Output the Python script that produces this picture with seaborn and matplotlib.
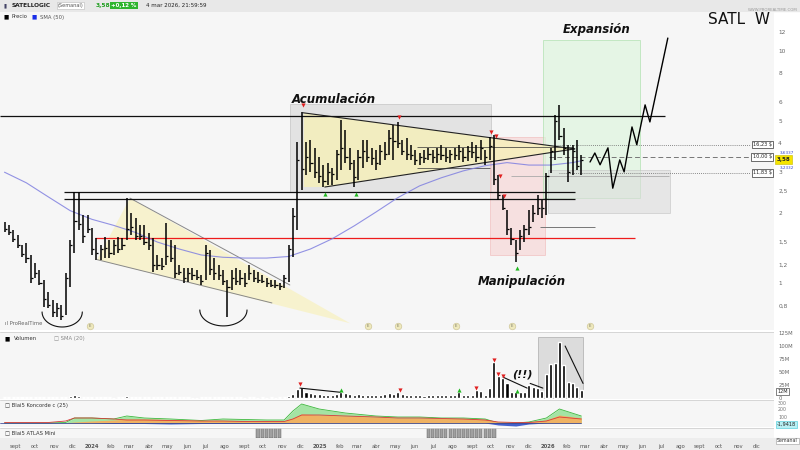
import numpy as np
import pandas as pd
import matplotlib
matplotlib.use("Agg")
import matplotlib.pyplot as plt
import seaborn as sns
from matplotlib.patches import Rectangle, Polygon
from matplotlib.ticker import NullLocator
import matplotlib.transforms as mtransforms

# =============================
# DATA  (weekly bars, week 0 = 14 aug 2023)
# =============================
START = pd.Timestamp("2023-08-14")

highs = [1.83, 1.78, 1.69, 1.61, 1.46, 1.49, 1.32, 1.22, 1.14, 1.03,
         0.91, 0.845, 0.82, 0.80, 1.10, 1.53, 2.47, 2.47, 1.96, 1.96,
         1.73, 1.56, 1.46, 1.58, 1.53, 1.53, 1.58, 1.56, 2.32, 2.00,
         1.91, 1.78, 1.78, 1.64, 1.56, 1.32, 1.28, 1.81, 1.53, 1.46,
         1.20, 1.16, 1.16, 1.16, 1.14, 1.08, 1.46, 1.39, 1.28, 1.20,
         1.14, 1.03, 1.14, 1.16, 1.14, 1.10, 1.20, 1.14, 1.12, 1.08,
         1.05, 1.03, 1.03, 1.00, 1.08, 1.46, 2.10, 4.05, 5.46, 4.05,
         4.13, 3.82, 3.49, 3.23, 3.29, 3.13, 3.74, 5.04, 4.56, 3.82,
         3.39, 3.74, 4.13, 4.13, 3.82, 3.74, 3.94, 4.05, 4.56, 4.80,
         4.94, 4.13, 4.20, 3.94, 3.74, 3.63, 3.74, 3.82, 3.74, 3.82,
         3.94, 3.82, 3.74, 3.82, 3.94, 3.82, 3.90, 4.05, 3.94, 4.13,
         3.74, 4.26, 4.34, 2.92, 2.39, 2.06, 1.73, 1.53, 1.69, 1.78,
         2.06, 2.17, 2.39, 2.28, 2.98, 3.82, 5.30, 5.85, 4.66, 3.94,
         3.94, 4.13, 3.56]

lows = [1.66, 1.61, 1.50, 1.42, 1.29, 1.22, 1.00, 1.05, 0.98, 0.79,
        0.78, 0.71, 0.71, 0.69, 0.73, 0.96, 1.35, 1.69, 1.49, 1.64,
        1.32, 1.26, 1.26, 1.28, 1.28, 1.32, 1.35, 1.39, 1.53, 1.61,
        1.53, 1.53, 1.46, 1.39, 1.12, 1.14, 1.14, 1.20, 1.23, 1.05,
        1.08, 1.00, 1.01, 1.03, 1.03, 0.98, 1.03, 1.08, 1.03, 1.03,
        0.98, 0.71, 0.93, 0.98, 0.98, 0.96, 1.03, 1.01, 1.00, 1.00,
        0.96, 0.96, 0.95, 0.93, 0.95, 1.01, 1.29, 1.69, 2.52, 2.92,
        3.01, 2.84, 2.70, 2.59, 2.64, 2.64, 2.78, 3.07, 3.29, 3.07,
        2.59, 2.78, 3.13, 3.32, 3.23, 3.07, 3.23, 3.39, 3.56, 3.39,
        3.82, 3.56, 3.39, 3.39, 3.23, 3.23, 3.29, 3.39, 3.29, 3.29,
        3.39, 3.32, 3.29, 3.39, 3.39, 3.32, 3.36, 3.46, 3.32, 3.39,
        3.23, 3.39, 2.64, 2.28, 2.06, 1.61, 1.46, 1.23, 1.39, 1.50,
        1.61, 1.83, 1.96, 1.91, 1.96, 2.98, 3.39, 4.13, 3.56, 2.72,
        2.92, 3.07, 2.92]

closes = [1.70, 1.65, 1.55, 1.45, 1.33, 1.28, 1.05, 1.10, 1.00, 0.85,
          0.80, 0.75, 0.78, 0.72, 1.05, 1.45, 1.85, 1.80, 1.60, 1.70,
          1.40, 1.35, 1.40, 1.42, 1.35, 1.45, 1.40, 1.45, 1.70, 1.75,
          1.60, 1.60, 1.50, 1.45, 1.20, 1.20, 1.18, 1.30, 1.28, 1.10,
          1.12, 1.05, 1.10, 1.08, 1.06, 1.02, 1.35, 1.15, 1.10, 1.08,
          1.02, 0.96, 1.05, 1.02, 1.05, 1.00, 1.10, 1.05, 1.03, 1.02,
          1.00, 0.98, 0.98, 0.97, 1.05, 1.40, 1.95, 3.40, 3.10, 3.50,
          3.30, 3.00, 2.90, 2.75, 3.00, 2.95, 3.60, 3.80, 3.50, 3.30,
          2.85, 3.50, 3.70, 3.50, 3.45, 3.30, 3.70, 3.60, 4.20, 4.10,
          4.00, 3.70, 3.60, 3.55, 3.40, 3.50, 3.45, 3.60, 3.50, 3.60,
          3.55, 3.50, 3.60, 3.55, 3.70, 3.50, 3.70, 3.65, 3.50, 3.80,
          3.50, 3.90, 2.80, 2.40, 2.10, 1.70, 1.55, 1.35, 1.60, 1.70,
          1.75, 2.00, 2.10, 2.10, 2.90, 3.70, 5.00, 4.30, 3.80, 3.00,
          3.70, 3.20, 3.40]

# volume in millions
volume_m = [1.5, 1.2, 1.0, 1.3, 1.1, 1.5, 2.0, 1.2, 1.0, 1.5,
            1.8, 2.0, 1.5, 2.5, 2.0, 3.5, 5.0, 3.0, 2.0, 1.5,
            1.2, 1.0, 1.0, 1.2, 1.0, 0.8, 1.0, 1.2, 3.5, 2.0,
            1.5, 1.2, 1.0, 1.0, 1.5, 1.2, 1.0, 1.8, 1.2, 1.5,
            1.0, 1.2, 1.0, 0.8, 0.8, 1.0, 1.5, 1.2, 1.0, 1.0,
            1.0, 2.0, 1.2, 1.0, 1.0, 0.8, 1.0, 1.0, 0.8, 1.0,
            0.8, 1.0, 0.8, 1.0, 1.5, 4.0, 8.0, 18.0, 22.0, 12.0,
            9, 8, 7, 6, 5, 6, 7, 12, 9, 7,
            6, 7, 6, 5, 6, 5, 6, 7, 9, 8,
            11, 7, 6, 6, 5, 5, 4, 5, 6, 5,
            5, 6, 5, 5, 11, 6, 5, 5, 15, 14,
            6, 19, 70, 43, 38, 28, 11, 11, 11, 12,
            25, 21, 19, 13, 47, 66, 68, 108, 64, 30,
            28, 21, 15]

# SMA (50)
sma_weeks = [0, 5, 10, 15, 20, 25, 30, 35, 40, 45, 50, 55, 60, 65,
             70, 75, 80, 85, 90, 95, 100, 105, 110, 115, 120, 125, 130, 132]
sma_values = [3.00, 2.70, 2.35, 2.05, 1.88, 1.77, 1.65, 1.50, 1.40, 1.32,
              1.29, 1.28, 1.28, 1.30, 1.40, 1.55, 1.76, 2.02, 2.33, 2.62,
              2.84, 3.04, 3.20, 3.30, 3.22, 3.22, 3.30, 3.36]

# projected path (drawn zigzag)
proj_weeks = [134.0, 135.1, 136.3, 138.1, 139.2, 140.8, 141.8, 143.6,
              144.7, 146.6, 147.7, 151.8]
proj_prices = [3.32, 3.63, 3.23, 3.82, 2.56, 3.39, 3.01, 4.70,
               3.94, 5.85, 4.94, 11.35]

# Koncorde panel
kon_weeks = [0, 5, 10, 14, 16, 20, 25, 28, 32, 38, 45, 50, 55, 60, 64, 66,
             68, 72, 78, 85, 90, 95, 100, 105, 110, 113, 117, 120, 124, 127, 132]
kon_green = [0, 0, 0, 0.5, 5, 5, 4, 7, 5, 4, 2.5, 4, 3.5, 3, 3, 12,
             19, 14, 10, 7, 6, 6, 5, 5, 4, 0, 0, 1, 5, 14, 7]
kon_orange = [0, 0, 0, 0, 1, 2, 3, 4, 4, 3.5, 2.5, 2.5, 2, 2, 2, 5,
              9, 8, 7, 6, 5, 5, 4.5, 4.5, 3.5, 1, 0.5, 1, 3, 8, 5]
kon_blue = [0, 0, 0, 0, 0, 0, -0.5, -0.5, -0.5, -1, -0.5, -0.5, -0.3, -0.3, -0.3, 0,
            0, 0, 0, 0, 0, 0, 0, 0, 0, -2, -3, -1, 0, 0, 0]
kon_red = [0.5, 0.5, 0.5, 2, 5, 5, 4, 3, 3, 2.5, 2, 2, 1.5, 1.5, 1.5, 4,
           8, 8, 7, 6, 5, 5, 4.5, 4, 3, 1, 0.5, 0.5, 2, 6, 4]

# ATLAS Mini active weeks
atlas_weeks = [58, 59, 60, 61, 62, 63,
               97, 98, 99, 100, 101, 102, 103, 104, 105, 106, 107, 108, 109, 110, 111, 112]

# analyst drawings (weeks, prices)
acc_box = [65.3, 111.3, 2.47, 5.91]
man_box = [111.1, 123.7, 1.32, 4.26]
exp_box = [123.2, 145.4, 2.32, 11.17]
tgt_box = [124.4, 152.3, 2.00, 3.07]

tri_weeks = [68.5, 130.0, 73.3, 68.5]
tri_prices = [5.41, 3.78, 2.59, 2.59]
wedge_weeks = [28.7, 79.1, 21.2]
wedge_prices = [2.32, 0.67, 1.26]

red_arrow_weeks = [68.3, 90.3, 111.3, 112.5, 113.4, 114.3]
red_arrow_prices = [5.85, 5.19, 4.48, 4.30, 2.89, 2.37]
green_arrow_weeks = [73.3, 80.4, 117.3]
green_arrow_prices = [2.42, 2.42, 1.16]
event_weeks = [19.6, 83.2, 90.1, 103.3, 116.1, 134.0]

target_prices = [3.94, 3.49, 2.98]
target_labels = ["16,23 $", "10,00 $", "11,83 $"]

vol_red_weeks = [67.6, 90.5, 108.0, 112.0, 113.0, 114.0]
vol_red_values = [27, 15, 19, 74, 47, 42]
vol_green_weeks = [77.0, 104.0, 117.3]
vol_green_values = [15, 15, 14]

price_ticks = [0.8, 1, 1.2, 1.5, 2, 2.5, 3, 4, 5, 6, 8, 10, 12]
vol_ticks = [0, 25, 50, 75, 100, 125]
month_abbr = ["ene", "feb", "mar", "abr", "may", "jun",
              "jul", "ago", "sept", "oct", "nov", "dic"]

# =============================
# STYLE
# =============================
sns.set_theme(style="white", rc={"axes.facecolor": "#f6f6f6",
                                 "figure.facecolor": "white"})
plt.rcParams["font.family"] = ["DejaVu Sans"]

weeks = np.arange(len(highs))
XMIN, XMAX = -1.03, 176.1
R = 774 / 800

fig = plt.figure(figsize=(8, 4.5), dpi=100)
ax = fig.add_axes([0, 1 - 330 / 450, R, 318 / 450])
ax_v = fig.add_axes([0, 1 - 399 / 450, R, 67 / 450], sharex=ax)
ax_k = fig.add_axes([0, 1 - 427 / 450, R, 27 / 450], sharex=ax)
ax_a = fig.add_axes([0, 1 - 438 / 450, R, 10 / 450], sharex=ax)

for a in (ax, ax_v, ax_k, ax_a):
    for s in a.spines.values():
        s.set_visible(False)
    a.tick_params(axis="x", length=0, labelbottom=False)

# header / bottom bands
fig.patches.append(Rectangle((0, 1 - 11 / 450), 1, 11 / 450, transform=fig.transFigure,
                             color="#e8e8e8", zorder=-1))
fig.patches.append(Rectangle((0, 0), 1, 12 / 450, transform=fig.transFigure,
                             color="#ededed", zorder=-1))

# =============================
# PRICE PANEL
# =============================
ax.set_yscale("log")
ax.set_xlim(XMIN, XMAX)
ax.set_ylim(0.627, 14.7)

def box(a, b, color, edge, alpha):
    a_ = Rectangle((b[0], b[2]), b[1] - b[0], b[3] - b[2], facecolor=color,
                   edgecolor=edge, lw=0.6, alpha=alpha, zorder=0)
    a.add_patch(a_)

box(ax, acc_box, "#dcdcdc", "#bdbdbd", 0.7)
box(ax, man_box, "#f6d2d2", "#efb0b0", 0.6)
box(ax, exp_box, "#dff5df", "#a6dea6", 0.7)
box(ax, tgt_box, "#dcdcdc", "#bdbdbd", 0.6)

ax.add_patch(Polygon(list(zip(tri_weeks, tri_prices)), closed=True,
                     facecolor="#f6f0b8", edgecolor="none", alpha=0.8, zorder=0.5))
ax.add_patch(Polygon(list(zip(wedge_weeks, wedge_prices)), closed=True,
                     facecolor="#f8f2c4", edgecolor="none", alpha=0.8, zorder=0.5))

# triangle / wedge borders
ax.plot([68.3, 130.5], [5.41, 3.78], color="#222", lw=0.8, zorder=1)
ax.plot([73.3, 130.5], [2.59, 3.78], color="#222", lw=0.8, zorder=1)
ax.plot([28.7, 65.3], [2.32, 0.98], color="#888", lw=0.7, zorder=1)
ax.plot([21.2, 61.2], [1.26, 0.82], color="#888", lw=0.7, zorder=1)
ax.hlines([3.86], 94.4, 130, color="#333", lw=0.5, zorder=1)
ax.hlines([3.13], 94.4, 111, color="#333", lw=0.5, zorder=1)

# horizontal levels
ax.hlines(5.25, XMIN, 151.1, color="#111", lw=0.9, zorder=1)
ax.hlines([2.47, 2.30], 13.6, 130.5, color="#111", lw=0.9, zorder=1)
ax.hlines(1.56, 20.7, 144.3, color="#ee1c1c", lw=0.9, zorder=1)
ax.hlines(1.75, 122.5, 135.1, color="#777", lw=0.7, zorder=1)
ax.hlines(2.89, 116.0, 152.0, color="#aaa", lw=0.6, zorder=1)
ax.hlines(target_prices[0], 126.0, 170.5, color="#666", lw=0.6, ls=(0, (1, 1.5)), zorder=1)
ax.hlines(target_prices[1], 124.7, 170.5, color="#777", lw=0.7, ls=(0, (5, 3)), zorder=1)
ax.hlines(target_prices[2], 127.0, 170.5, color="#666", lw=0.6, ls=(0, (1, 1.5)), zorder=1)

for p, lab in zip(target_prices, target_labels):
    ax.text(175.6, p, lab, ha="right", va="center", fontsize=3.6, color="#222",
            bbox=dict(boxstyle="square,pad=0.25", fc="white", ec="#333", lw=0.5), zorder=5)

# SMA 50
sma_df = pd.DataFrame({"week": sma_weeks, "sma": sma_values})
sns.lineplot(data=sma_df, x="week", y="sma", ax=ax, color="#8080e0", lw=0.8,
             alpha=0.85, zorder=2, legend=False)

# OHLC bars
ax.vlines(weeks, lows, highs, color="black", lw=1.1, zorder=3)
ax.hlines(closes, weeks, weeks + 0.5, color="black", lw=0.9, zorder=3)

# projection
proj_df = pd.DataFrame({"week": proj_weeks, "price": proj_prices})
sns.lineplot(data=proj_df, x="week", y="price", ax=ax, color="black", lw=1.0,
             sort=False, zorder=3, legend=False)

# arrows
ax.scatter(red_arrow_weeks, red_arrow_prices, marker="v", s=9, color="#e02020", zorder=4, lw=0)
ax.scatter(green_arrow_weeks, green_arrow_prices, marker="^", s=9, color="#22b822", zorder=4, lw=0)

# smile arcs under the lows
t = np.linspace(0, np.pi, 40)
for kc, hw, ptop, pbot in [(13.2, 4.6, 0.75, 0.646), (50.1, 5.4, 0.765, 0.653)]:
    lt, lb = np.log10(ptop), np.log10(pbot)
    ax.plot(kc + hw * np.cos(t), 10 ** (lt - (lt - lb) * np.sin(t)), color="#111", lw=0.8, zorder=3)

# event circles
ax.scatter(event_weeks, [0.653] * len(event_weeks), s=22, facecolor="#efe9bd",
           edgecolor="#cfc799", lw=0.5, zorder=4)
for w in event_weeks:
    ax.text(w, 0.653, "E", fontsize=2.8, ha="center", va="center", color="#776", zorder=5)

# labels
ax.text(75.4, 6.2, "Acumulación", fontsize=8.5, fontweight="bold", style="italic",
        ha="center", va="center", color="#111")
ax.text(118.4, 1.01, "Manipulación", fontsize=8.5, fontweight="bold", style="italic",
        ha="center", va="center", color="#111")
ax.text(135.6, 12.4, "Expansión", fontsize=8.5, fontweight="bold", style="italic",
        ha="center", va="center", color="#111")
ax.text(0.006, 0.012, "ıl ProRealTime", transform=ax.transAxes, fontsize=3.8,
        color="#666", va="bottom")

# right price axis
ax.yaxis.tick_right()
ax.yaxis.set_minor_locator(NullLocator())
ax.set_yticks(price_ticks)
ax.set_yticklabels([str(v).replace(".", ",") for v in price_ticks])
ax.tick_params(axis="y", length=0, pad=3, labelsize=4.2, labelcolor="#666")
ax.set_xlabel("")
ax.set_ylabel("")

trans = mtransforms.blended_transform_factory(ax.transAxes, ax.transData)
last_close = closes[-1]
ax.text(1.003, last_close, "3,58", transform=trans, fontsize=4, fontweight="bold",
        ha="left", va="center", color="#222",
        bbox=dict(boxstyle="square,pad=0.3", fc="#f5e400", ec="#c8b800", lw=0.4), zorder=6)
ax.text(1.008, 3.62, "3,6337", transform=trans, fontsize=3, ha="left", va="center", color="#3344cc")
ax.text(1.008, 3.12, "3,2332", transform=trans, fontsize=3, ha="left", va="center", color="#3344cc")

# =============================
# VOLUME PANEL
# =============================
ax_v.set_ylim(-2, 127)
vol_color = ["black"] * len(volume_m)
ax_v.bar(weeks, volume_m, width=0.7, color=vol_color, zorder=3)
ax_v.add_patch(Rectangle((122.1, 0), 10.3, 117, facecolor="#d6d6d6", edgecolor="#aaa",
                         lw=0.6, alpha=0.8, zorder=1))
ax_v.plot([114.1, 119.6], [40, 19], color="#111", lw=0.8, zorder=4)
ax_v.plot([120.3, 123.2], [28, 19], color="#111", lw=0.8, zorder=4)
ax_v.plot([128.3, 132.4], [100, 28], color="#111", lw=0.8, zorder=4)
ax_v.plot([67.6, 76.8], [19, 11], color="#111", lw=0.8, zorder=4)
ax_v.scatter(vol_red_weeks, vol_red_values, marker="v", s=9, color="#e02020", zorder=5, lw=0)
ax_v.scatter(vol_green_weeks, vol_green_values, marker="^", s=9, color="#22b822", zorder=5, lw=0)
ax_v.text(118.5, 46, "(!!)", fontsize=8, fontweight="bold", style="italic",
          ha="center", va="center", color="#111")
ax_v.yaxis.tick_right()
ax_v.set_yticks(vol_ticks)
ax_v.set_yticklabels(["0", "25M", "50M", "75M", "100M", "125M"])
ax_v.tick_params(axis="y", length=0, pad=3, labelsize=3.8, labelcolor="#666")
ax_v.text(1.004, 12, "12M", transform=mtransforms.blended_transform_factory(ax_v.transAxes, ax_v.transData),
          fontsize=3.6, ha="left", va="center", color="#222",
          bbox=dict(boxstyle="square,pad=0.2", fc="white", ec="#222", lw=0.4))
ax_v.text(0.006, 0.9, "■", transform=ax_v.transAxes, fontsize=4, color="black", va="center")
ax_v.text(0.018, 0.9, "Volumen", transform=ax_v.transAxes, fontsize=3.8, color="#333", va="center")
ax_v.text(0.07, 0.9, "□ SMA (20)", transform=ax_v.transAxes, fontsize=3.8, color="#888", va="center")
ax_v.axhline(127, color="#d0d0d0", lw=0.6)

# =============================
# KONCORDE PANEL
# =============================
ax_k.set_ylim(-4, 23)
ax_k.fill_between(kon_weeks, 0, kon_green, color="#9be39b", alpha=0.9, lw=0, zorder=1)
ax_k.plot(kon_weeks, kon_green, color="#3cb83c", lw=0.6, zorder=2)
ax_k.fill_between(kon_weeks, 0, kon_orange, color="#f4b060", alpha=0.95, lw=0, zorder=3)
ax_k.fill_between(kon_weeks, 0, kon_blue, color="#3050c8", alpha=0.9, lw=0, zorder=3)
kon_df = pd.DataFrame({"week": kon_weeks, "red": kon_red})
sns.lineplot(data=kon_df, x="week", y="red", ax=ax_k, color="#d83a3a", lw=0.6,
             zorder=4, legend=False)
ax_k.axhline(0, xmin=0, xmax=(132 - XMIN) / (XMAX - XMIN), color="#203090", lw=0.5, zorder=4)
ax_k.axhline(23, color="#d0d0d0", lw=0.6)
ax_k.yaxis.tick_right()
ax_k.set_yticks([20, 14, 6])
ax_k.set_yticklabels(["300", "200", "100"])
ax_k.tick_params(axis="y", length=0, pad=3, labelsize=3.4, labelcolor="#777")
ax_k.text(1.004, -1.5, "-1,9418", transform=mtransforms.blended_transform_factory(ax_k.transAxes, ax_k.transData),
          fontsize=3.6, ha="left", va="center", color="#222",
          bbox=dict(boxstyle="square,pad=0.2", fc="#b8f0f4", ec="#40c8d8", lw=0.4))
ax_k.text(0.006, 0.8, "□ Blai5 Koncorde c (25)", transform=ax_k.transAxes, fontsize=3.8,
          color="#333", va="center")
ax_k.set_xlabel("")
ax_k.set_ylabel("")

# =============================
# ATLAS MINI PANEL
# =============================
ax_a.set_ylim(0, 1)
ax_a.bar(atlas_weeks, [1] * len(atlas_weeks), width=0.75, color="#a0a0a0",
         edgecolor="#555", lw=0.3)
ax_a.axhline(1, color="#d0d0d0", lw=0.6)
ax_a.set_yticks([])
ax_a.text(0.006, 0.5, "□ Blai5 ATLAS Mini", transform=ax_a.transAxes, fontsize=3.8,
          color="#333", va="center")

# month axis
months = pd.date_range("2023-09-01", "2027-01-01", freq="MS")
month_pos = (months - START).days / 7
month_lab = [str(d.year) if d.month == 1 else month_abbr[d.month - 1] for d in months]
ax_a.set_xticks(month_pos)
ax_a.set_xticklabels(month_lab)
ax_a.tick_params(axis="x", length=0, pad=4, labelsize=3.8, labelcolor="#555", labelbottom=True)
for lab in ax_a.get_xticklabels():
    if lab.get_text().isdigit():
        lab.set_fontweight("bold")
ax_a.set_xlim(XMIN, XMAX)

# =============================
# HEADER TEXT
# =============================
hy = 1 - 5.5 / 450
fig.text(0.004, hy, "▮", fontsize=4, color="#446", va="center")
fig.text(0.014, hy, "SATELLOGIC", fontsize=4.2, fontweight="bold", color="#222", va="center")
fig.text(0.072, hy, "(Semanal)", fontsize=3.6, color="#555", va="center",
         bbox=dict(boxstyle="square,pad=0.2", fc="white", ec="#bbb", lw=0.4))
fig.text(0.119, hy, "3,58", fontsize=4.2, fontweight="bold", color="#1e9e1e", va="center")
fig.text(0.139, hy, "+0,12 %", fontsize=4, fontweight="bold", color="white", va="center",
         bbox=dict(boxstyle="square,pad=0.2", fc="#2fb52f", ec="none"))
fig.text(0.182, hy, "4 mar 2026, 21:59:59", fontsize=4, color="#222", va="center")
fig.text(0.997, 1 - 10 / 450, "WWW.PROREALTIME.COM", fontsize=2.8, color="#999",
         ha="right", va="center")

ly = 1 - 17 / 450
fig.text(0.004, ly, "■", fontsize=4, color="black", va="center")
fig.text(0.014, ly, "Precio", fontsize=3.8, color="#333", va="center")
fig.text(0.040, ly, "■", fontsize=4, color="#1a2ee8", va="center")
fig.text(0.050, ly, "SMA (50)", fontsize=3.8, color="#555", va="center")

fig.text(0.962, 1 - 20 / 450, "SATL  W", fontsize=11, color="#111", ha="right", va="center")
fig.text(0.997, 1 - 441 / 450, "Semanal", fontsize=3.4, color="#333", ha="right", va="center",
         bbox=dict(boxstyle="square,pad=0.2", fc="white", ec="#999", lw=0.4))

fig.savefig("out.png", dpi=100)
